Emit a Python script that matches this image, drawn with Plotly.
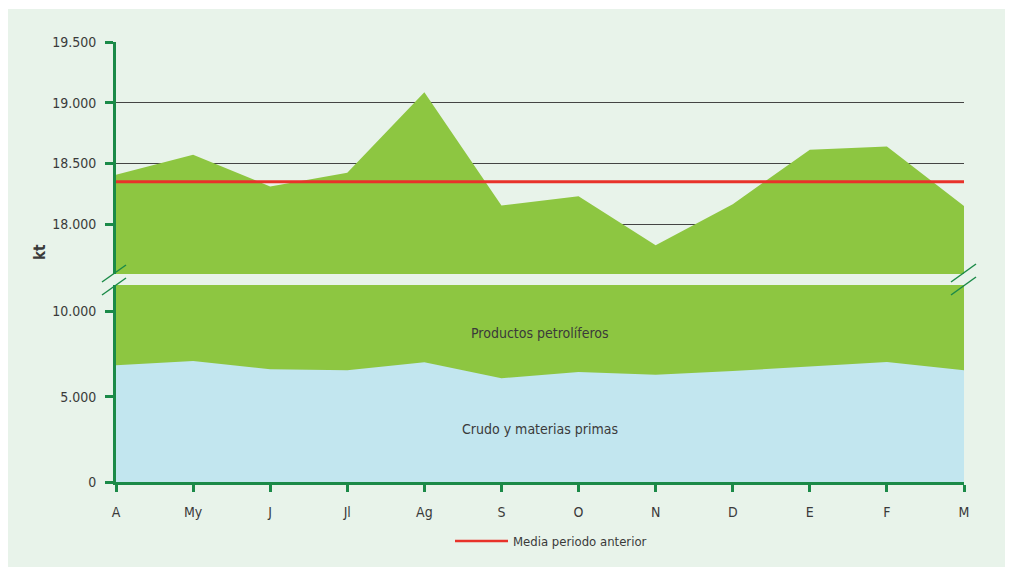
import plotly.graph_objects as go

# ---- data (kt) ----
months = ["A", "My", "J", "Jl", "Ag", "S", "O", "N", "D", "E", "F", "M"]
crudo = [6837, 7088, 6600, 6542, 7012, 6075, 6444, 6286, 6503, 6755, 7030, 6542]
productos = [11571, 11485, 11712, 11882, 12075, 12080, 11788, 11543, 11663, 11859, 11611, 11610]
media_anterior = 18350
upper_ticks = [18000, 18500, 19000, 19500]
lower_ticks = [0, 5000, 10000]
upper_range = [17592, 19500]
lower_range = [0, 11541]

total = [c + p for c, p in zip(crudo, productos)]
xs = list(range(len(months)))

GREEN = "#8dc641"
BLUE = "#c2e6ef"
AXIS = "#1b8a48"
RED = "#e8322a"
BG = "#e8f3ea"
TXT = "#3a3a3a"
FONT = "DejaVu Sans Condensed, DejaVu Sans, sans-serif"


def fnt(size, weight="normal"):
    return dict(size=size, color=TXT, family=FONT, weight=weight)


fig = go.Figure()
# upper panel
fig.add_trace(go.Scatter(x=xs, y=total, mode="lines", fill="tozeroy", fillcolor=GREEN,
                         line=dict(width=0, color=GREEN), yaxis="y", xaxis="x",
                         hoverinfo="skip", showlegend=False))
fig.add_trace(go.Scatter(x=xs, y=[media_anterior] * len(xs), mode="lines",
                         line=dict(width=3, color=RED), yaxis="y", xaxis="x",
                         name="Media periodo anterior", showlegend=False))
# lower panel
fig.add_trace(go.Scatter(x=xs, y=total, mode="lines", fill="tozeroy", fillcolor=GREEN,
                         line=dict(width=0, color=GREEN), yaxis="y2", xaxis="x",
                         name="Productos petrolíferos", showlegend=False))
fig.add_trace(go.Scatter(x=xs, y=crudo, mode="lines", fill="tozeroy", fillcolor=BLUE,
                         line=dict(width=0, color=BLUE), yaxis="y2", xaxis="x",
                         name="Crudo y materias primas", showlegend=False))

# page has an 8px body margin: figure placed at (8, 8)
OFF = 8
W, H = 1013, 559
L, R, T, B = 108, 57, 34, 85
pw, ph = W - L - R, H - T - B


def px(xp):  # page pixel x -> paper
    return (xp - OFF - L) / pw


def py(yp):  # page pixel y -> paper
    return (H - B - (yp - OFF)) / ph


shapes = [
    dict(type="rect", xref="paper", yref="paper", x0=px(6), x1=px(1030), y0=py(567), y1=py(9),
         fillcolor=BG, line=dict(width=0), layer="below"),
]
for (x0, y0, x1, y1) in [(102, 282, 126, 265), (102, 295, 126, 278),
                         (951, 282, 976, 264), (951, 295, 976, 277)]:
    shapes.append(dict(type="line", xref="paper", yref="paper", x0=px(x0), y0=py(y0),
                       x1=px(x1), y1=py(y1), line=dict(color=AXIS, width=1.5)))
# legend line
shapes.append(dict(type="line", xref="paper", yref="paper", x0=px(455), x1=px(508),
                   y0=py(541), y1=py(541), line=dict(color=RED, width=2.5)))

annotations = [
    dict(text="Productos petrolíferos", x=5.5, y=8700, xref="x", yref="y2", showarrow=False,
         font=fnt(14)),
    dict(text="Crudo y materias primas", x=5.5, y=3100, xref="x", yref="y2", showarrow=False,
         font=fnt(14)),
    dict(text="kt", x=px(40), y=py(252), xref="paper", yref="paper", showarrow=False,
         xanchor="center", yanchor="middle", textangle=-90, font=fnt(15, "bold")),
    dict(text="Media periodo anterior", x=px(511), y=py(541), xref="paper", yref="paper",
         xanchor="left", yanchor="middle", showarrow=False, font=fnt(13)),
]

fig.update_layout(
    width=W, height=H,
    margin=dict(l=L, r=R, t=T, b=B),
    paper_bgcolor="white",
    plot_bgcolor="rgba(0,0,0,0)",
    separators=",.",
    font=fnt(14),
    showlegend=False,
    shapes=shapes,
    annotations=annotations,
    xaxis=dict(range=[0, len(xs) - 1], tickvals=xs, ticktext=months, anchor="y2",
               showline=True, linecolor=AXIS, linewidth=3, ticks="outside", ticklen=7,
               tickwidth=3, tickcolor=AXIS, showgrid=False, zeroline=False,
               ticklabelstandoff=8, tickfont=fnt(14)),
    yaxis=dict(domain=[py(274), 1], range=upper_range, tickvals=upper_ticks, tickformat=",d",
               showline=True, linecolor=AXIS, linewidth=3, ticks="outside", ticklen=8,
               tickwidth=3, tickcolor=AXIS, showgrid=True, gridcolor="#444", gridwidth=1,
               zeroline=False, anchor="x", ticklabelstandoff=6, tickfont=fnt(14)),
    yaxis2=dict(domain=[0, py(285)], range=lower_range, tickvals=lower_ticks, tickformat=",d",
                showline=True, linecolor=AXIS, linewidth=3, ticks="outside", ticklen=8,
                tickwidth=3, tickcolor=AXIS, showgrid=False, zeroline=False, anchor="x",
                ticklabelstandoff=6, tickfont=fnt(14)),
)

fig.write_html("out.html")
